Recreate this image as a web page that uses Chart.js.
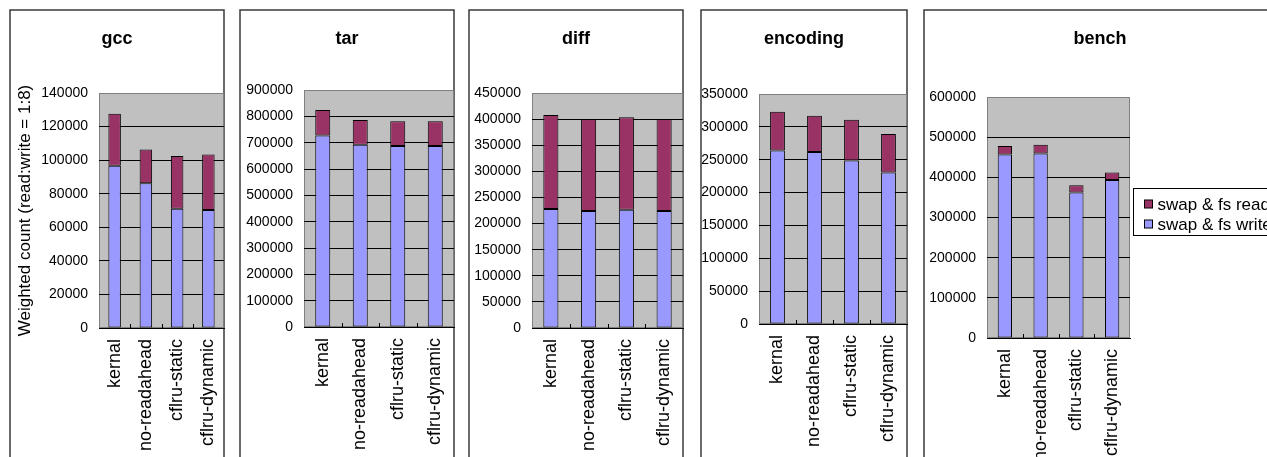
<!DOCTYPE html>
<html>
<head>
<meta charset="utf-8">
<script src="https://cdn.jsdelivr.net/npm/chart.js@4.4.1/dist/chart.umd.min.js"></script>
<style>
  html, body { margin: 0; padding: 0; background: #fff; overflow: hidden; width: 1267px; height: 457px; }
  canvas { position: absolute; top: 0; }
</style>
</head>
<body>
<script>
// Benchmarks and page-replacement policies
const categories = ['kernal', 'no-readahead', 'cflru-static', 'cflru-dynamic'];
const seriesNames = ['swap & fs write', 'swap & fs read'];
const panelTitles = ['gcc', 'tar', 'diff', 'encoding', 'bench'];

// Weighted I/O counts per benchmark (write part, read part)
const gccWrite = [96700, 86200, 71100, 70300];
const gccRead = [31000, 20200, 31400, 33000];
const tarWrite = [727000, 692000, 687000, 687000];
const tarRead = [97000, 94000, 94000, 94000];
const diffWrite = [228000, 224000, 226600, 224000];
const diffRead = [180000, 176200, 176800, 176200];
const encodingWrite = [264100, 261600, 248900, 230600];
const encodingRead = [59000, 55400, 62000, 58400];
const benchWrite = [457100, 459600, 362300, 393100];
const benchRead = [20700, 21600, 18300, 19100];

// Value axis range and tick step of each panel
const axisMax = [140000, 900000, 450000, 350000, 600000];
const axisStep = [20000, 100000, 50000, 50000, 100000];

const yAxisTitle = 'Weighted count (read:write = 1:8)';

const writeSets = [gccWrite, tarWrite, diffWrite, encodingWrite, benchWrite];
const readSets = [gccRead, tarRead, diffRead, encodingRead, benchRead];

// Page geometry of each panel: frame edges and plot area edges
const frames = [
  { frameL: 10,  frameR: 224,  plotL: 99,  plotR: 224,  top: 93, bottom: 328 },
  { frameL: 240, frameR: 454,  plotL: 304, plotR: 454,  top: 90, bottom: 327 },
  { frameL: 469, frameR: 683,  plotL: 532, plotR: 683,  top: 93, bottom: 328 },
  { frameL: 701, frameR: 907,  plotL: 759, plotR: 907,  top: 94, bottom: 324 },
  { frameL: 924, frameR: 1276, plotL: 987, plotR: 1130, top: 97, bottom: 338 }
];

const FONT = '"Liberation Sans", Arial, Helvetica, sans-serif';
Chart.defaults.font.family = FONT;
Chart.defaults.color = '#000';

const WRITE_COLOR = '#9999ff';
const READ_COLOR = '#993366';

// Panel frame, grey plot background and the bold panel heading
const panelPlugin = {
  id: 'panel',
  beforeDraw(chart, args, opts) {
    const { ctx, chartArea: a } = chart;
    ctx.save();
    ctx.strokeStyle = '#3a3a3a';
    ctx.lineWidth = 1.5;
    ctx.beginPath();
    ctx.moveTo(1, chart.height + 5);
    ctx.lineTo(1, 10);
    ctx.lineTo(chart.width - 1, 10);
    ctx.lineTo(chart.width - 1, chart.height + 5);
    ctx.stroke();

    ctx.fillStyle = '#c0c0c0';
    ctx.fillRect(a.left, a.top, a.right - a.left, a.bottom - a.top);
    ctx.strokeStyle = '#808080';
    ctx.lineWidth = 1;
    ctx.strokeRect(a.left + 0.5, a.top + 0.5, a.right - a.left - 1, a.bottom - a.top - 1);

    ctx.fillStyle = '#000';
    ctx.font = 'bold 18px ' + FONT;
    ctx.textAlign = 'center';
    ctx.textBaseline = 'alphabetic';
    ctx.fillText(opts.title, chart.width / 2, 44);
    ctx.restore();
  },
  afterDatasetsDraw(chart) {
    // short inward tick marks between categories
    const { ctx, chartArea: a } = chart;
    const xs = chart.scales.x;
    ctx.save();
    ctx.strokeStyle = '#000';
    ctx.lineWidth = 1;
    ctx.beginPath();
    for (let i = 1; i < categories.length; i++) {
      const px = Math.round((xs.getPixelForValue(i - 1) + xs.getPixelForValue(i)) / 2) + 0.5;
      ctx.moveTo(px, a.bottom);
      ctx.lineTo(px, a.bottom - 4);
    }
    ctx.stroke();
    ctx.restore();
  }
};

// Boxed legend to the right of the plot, stacked order (top series first)
const boxLegendPlugin = {
  id: 'boxLegend',
  afterDraw(chart, args, opts) {
    if (!opts.show) return;
    const { ctx, chartArea: a } = chart;
    const left = a.right + 3.5;
    const top = 188.5;
    ctx.save();
    ctx.strokeStyle = '#000';
    ctx.lineWidth = 1;
    ctx.strokeRect(left, top, chart.width + 20 - left, 47);
    const sets = chart.data.datasets.slice().reverse();
    ctx.font = '17px ' + FONT;
    ctx.textAlign = 'left';
    ctx.textBaseline = 'middle';
    sets.forEach((ds, i) => {
      const cy = 204 + i * 20;
      ctx.fillStyle = ds.backgroundColor;
      ctx.fillRect(left + 11, cy - 4, 8, 8);
      ctx.strokeStyle = '#000';
      ctx.strokeRect(left + 11, cy - 4, 8, 8);
      ctx.fillStyle = '#000';
      ctx.fillText(ds.label, left + 24, cy + 1);
    });
    ctx.restore();
  }
};

frames.forEach((g, p) => {
  const canvas = document.createElement('canvas');
  const canvasLeft = g.frameL - 1;
  const width = g.frameR - g.frameL + 2;
  canvas.width = width;
  canvas.height = 457;
  canvas.style.left = canvasLeft + 'px';
  canvas.style.width = width + 'px';
  canvas.style.height = '457px';
  document.body.appendChild(canvas);

  const plotRight = g.plotR - canvasLeft;
  const yMax = axisMax[p];

  new Chart(canvas, {
    type: 'bar',
    data: {
      labels: categories,
      datasets: [
        {
          label: seriesNames[0],
          data: writeSets[p],
          backgroundColor: WRITE_COLOR,
          borderColor: '#000',
          borderWidth: 1,
          borderSkipped: false,
          barPercentage: 0.4,
          categoryPercentage: 1,
          stack: 'io'
        },
        {
          label: seriesNames[1],
          data: readSets[p],
          backgroundColor: READ_COLOR,
          borderColor: '#000',
          borderWidth: 1,
          borderSkipped: false,
          barPercentage: 0.4,
          categoryPercentage: 1,
          stack: 'io'
        }
      ]
    },
    options: {
      responsive: false,
      animation: false,
      devicePixelRatio: 1,
      layout: { padding: { top: g.top, right: width - plotRight, left: 0, bottom: 0 } },
      plugins: {
        legend: { display: false },
        tooltip: { enabled: false },
        title: { display: false },
        panel: { title: panelTitles[p] },
        boxLegend: { show: p === frames.length - 1 }
      },
      scales: {
        x: {
          stacked: true,
          offset: true,
          grid: { display: false, drawTicks: false },
          border: { display: true, color: '#000', width: 1 },
          ticks: {
            minRotation: 90,
            maxRotation: 90,
            autoSkip: false,
            padding: 11,
            color: '#000',
            font: { size: 18 }
          },
          afterFit(scale) {
            scale.height = 457 - g.bottom;
            scale.paddingLeft = 0;
            scale.paddingRight = 0;
          }
        },
        y: {
          stacked: true,
          min: 0,
          max: yMax,
          grid: {
            drawTicks: false,
            lineWidth: 1,
            color: (ctx) => (ctx.tick && (ctx.tick.value === 0 || ctx.tick.value === yMax)) ? 'rgba(0,0,0,0)' : '#000'
          },
          border: { display: false },
          ticks: {
            stepSize: axisStep[p],
            padding: 11,
            color: '#000',
            font: { size: 14 },
            callback: (v) => String(v)
          },
          title: {
            display: p === 0,
            text: yAxisTitle,
            color: '#000',
            font: { size: 17 },
            padding: { top: 6, bottom: 0 }
          },
          afterFit(scale) { scale.width = g.plotL - canvasLeft; }
        }
      }
    },
    plugins: [panelPlugin, boxLegendPlugin]
  });
});
</script>
</body>
</html>
